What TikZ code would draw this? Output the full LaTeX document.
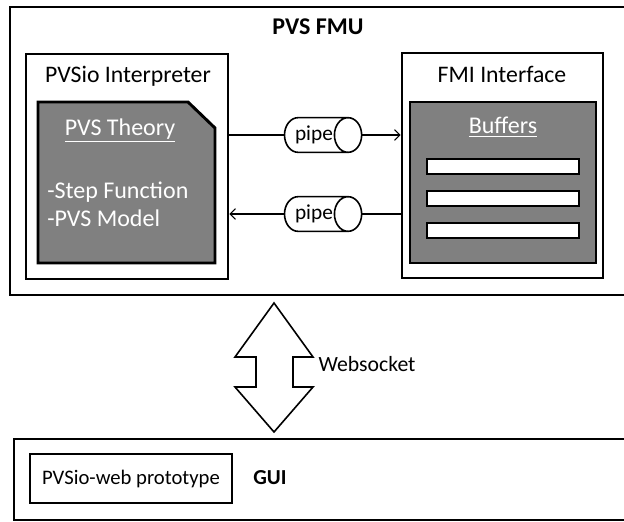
\documentclass[tikz,border=0pt]{standalone}
\usepackage{fontspec}
\setmainfont{Carlito}
\usetikzlibrary{shapes.geometric, arrows.meta}

\begin{document}
\begin{tikzpicture}[
  x=0.75pt, y=-0.75pt,
  txt/.style={font=\fontsize{17.8}{21}\selectfont, inner sep=0pt},
  box/.style={draw, line width=2.2pt, fill=white, inner sep=0pt},
  greybox/.style={draw, line width=2.2pt, fill=black!50, inner sep=0pt},
  bar/.style={draw, line width=1.5pt, fill=white, inner sep=0pt,
    minimum width=114pt, minimum height=11.25pt},
  pipe/.style={cylinder, draw, line width=1.2pt, fill=white, aspect=1.4,
    minimum height=54pt, minimum width=26pt, inner sep=0.5pt,
    font=\fontsize{16}{18}\selectfont},
  link/.style={line width=0.8pt},
  tip/.style={-{Straight Barb[length=4pt, width=8pt]}}
]
\useasboundingbox (0,0) rectangle (624,521);

% PVS FMU
\node[box, minimum width=465pt, minimum height=216pt] (fmu) at (320,151) {};
\node[txt, font=\fontsize{18}{21}\selectfont\bfseries] (fmutitle) at (318,27) {PVS FMU};

% PVSio Interpreter
\node[box, minimum width=151.5pt, minimum height=168.75pt] (interp) at (127,166.5) {};
\node[txt] (interptitle) at (128,76) {PVSio Interpreter};
\draw[line width=2.2pt, fill=black!50]
  (38,102) -- (188,102) -- (215,128) -- (215,263) -- (38,263) -- cycle;
\node[txt, font=\fontsize{18}{21}\selectfont, text=white] (theory) at (120,130) {\underline{PVS Theory}};
\node[txt, font=\fontsize{18}{21}\selectfont, text=white, anchor=west, align=left] (steps) at (47,204)
  {-Step Function\\-PVS Model};

% FMI Interface
\node[box, minimum width=150.75pt, minimum height=168.75pt] (fmi) at (502.5,165.5) {};
\node[txt] (fmititle) at (502,74) {FMI Interface};
\node[greybox, minimum width=139.5pt, minimum height=120.75pt] (buffers) at (503,182.5) {};
\node[txt, font=\fontsize{18}{21}\selectfont, text=white] (buftitle) at (503,127) {\underline{Buffers}};
\foreach \y/\name in {166.5/bara, 198.5/barb, 230.5/barc}
  \node[bar] (\name) at (503,\y) {};

% pipes
\node[pipe] (pipea) at (314,135) {pipe};
\node[pipe] (pipeb) at (314,214) {pipe};
\draw[link] (interp.east |- pipea.west) -- (pipea.west);
\draw[link, tip] (pipea.east) -- (fmi.west |- pipea.east);
\draw[link] (fmi.west |- pipeb.east) -- (pipeb.east);
\draw[link, tip] (pipeb.west) -- (interp.east |- pipeb.west);

% websocket
\draw[line width=1.2pt]
  (274,303) -- (313,357) -- (293,357) -- (293,387) -- (313,387) -- (274,432)
  -- (235,387) -- (256,387) -- (256,357) -- (235,357) -- cycle;
\node[txt, font=\fontsize{16.3}{19}\selectfont] (websocket) at (367,364) {Websocket};

% GUI
\node[box, minimum width=462pt, minimum height=60.75pt] (gui) at (322,479.5) {};
\node[box, txt, font=\fontsize{15.5}{18}\selectfont, line width=1.5pt, minimum width=151.5pt, minimum height=36.75pt] (proto) at (131,478.5)
  {PVSio-web prototype};
\node[txt, font=\fontsize{16}{19}\selectfont\bfseries] (guititle) at (270,478) {GUI};
\end{tikzpicture}
\end{document}
